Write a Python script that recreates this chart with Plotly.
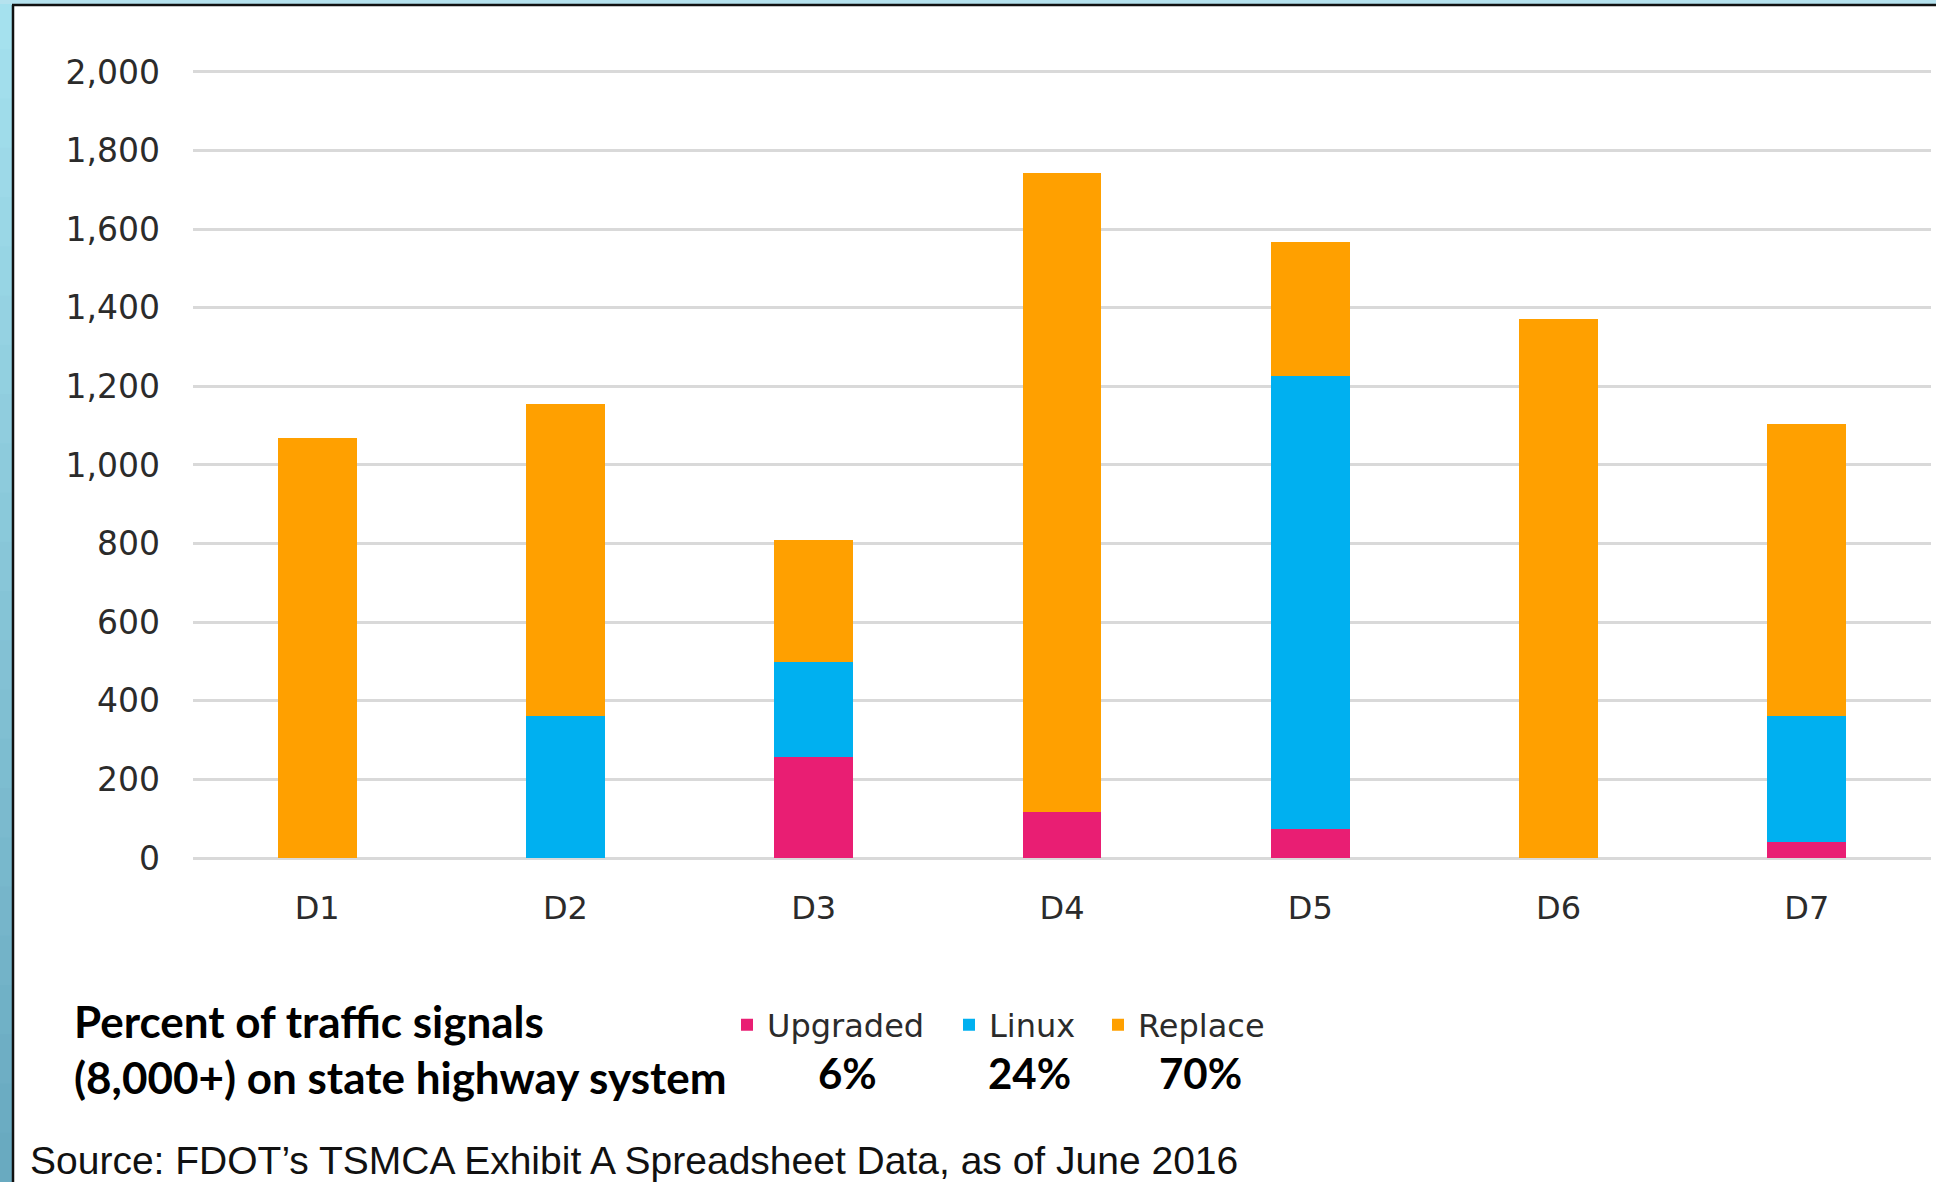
import plotly.graph_objects as go

# ---- data ----
districts = ["D1", "D2", "D3", "D4", "D5", "D6", "D7"]
upgraded = [0, 0, 257, 117, 74, 0, 41]
linux = [0, 362, 241, 0, 1152, 0, 320]
replace = [1069, 794, 311, 1625, 341, 1371, 744]

series_names = ["Upgraded", "Linux", "Replace"]
series_colors = ["#E91E73", "#00B0F0", "#FFA000"]
percent_labels = ["6%", "24%", "70%"]
y_ticks = [0, 200, 400, 600, 800, 1000, 1200, 1400, 1600, 1800, 2000]

caption_lines = ["Percent of traffic signals", "(8,000+) on state highway system"]
source_text = "Source: FDOT\u2019s TSMCA Exhibit A Spreadsheet Data, as of June 2016"

# ---- layout geometry (pixels) ----
W, H = 1936, 1182
L, R, T, B = 193, 1931, 70, 858
Y_TOP = 2005


def xp(px):
    return (px - L) / (R - L)


def yp(py):
    return (B - py) / (B - T)


legend_names = ["legend", "legend2", "legend3"]
legend_x = [727, 949, 1098]

fig = go.Figure()
for name, vals, col, lg in zip(series_names, [upgraded, linux, replace], series_colors, legend_names):
    fig.add_trace(go.Bar(x=districts, y=vals, name=name, marker_color=col,
                         marker_line_width=0, legend=lg))

shapes = []
# left gradient strip
n = 24
c0 = (165, 225, 238)
c1 = (105, 170, 192)
for i in range(n):
    f = i / (n - 1)
    c = tuple(int(c0[k] + (c1[k] - c0[k]) * f) for k in range(3))
    y0 = H * i / n
    y1 = H * (i + 1) / n + 1
    shapes.append(dict(type="rect", xref="paper", yref="paper",
                       x0=xp(0), x1=xp(12), y0=yp(y0), y1=yp(y1),
                       fillcolor="rgb(%d,%d,%d)" % c, line_width=0, layer="above"))
# top strip
shapes.append(dict(type="rect", xref="paper", yref="paper",
                   x0=xp(0), x1=xp(W), y0=yp(0), y1=yp(4),
                   fillcolor="#B5E2EE", line_width=0, layer="above"))
# black frame lines
shapes.append(dict(type="line", xref="paper", yref="paper",
                   x0=xp(13), x1=xp(13), y0=yp(5), y1=yp(H),
                   line=dict(color="#111111", width=2.5), layer="above"))
shapes.append(dict(type="line", xref="paper", yref="paper",
                   x0=xp(12), x1=xp(W), y0=yp(5), y1=yp(5),
                   line=dict(color="#111111", width=2.5), layer="above"))

annotations = []
for txt, yy in zip(caption_lines, [1021, 1077]):
    annotations.append(dict(text=txt, xref="paper", yref="paper", x=xp(72), y=yp(yy),
                            xanchor="left", yanchor="middle", showarrow=False,
                            font=dict(family="Lato", size=44, color="#000000", weight="bold")))
for txt, xx in zip(percent_labels, [847, 1029, 1200]):
    annotations.append(dict(text=txt, xref="paper", yref="paper", x=xp(xx), y=yp(1073),
                            xanchor="center", yanchor="middle", showarrow=False,
                            font=dict(family="Lato", size=42, color="#000000", weight="bold")))
annotations.append(dict(text=source_text, xref="paper", yref="paper", x=xp(28), y=yp(1160),
                        xanchor="left", yanchor="middle", showarrow=False,
                        font=dict(family="Liberation Sans", size=39, color="#111111")))

legend_style = dict(orientation="h", y=yp(1025), xanchor="left", yanchor="middle",
                    font=dict(family="DejaVu Sans", size=32, color="#2b2b2b"),
                    bgcolor="rgba(0,0,0,0)", borderwidth=0)

fig.update_layout(
    width=W, height=H,
    margin=dict(l=L, r=W - R, t=T, b=H - B, pad=0),
    paper_bgcolor="white", plot_bgcolor="white",
    barmode="stack", bargap=0.682,
    font=dict(family="DejaVu Sans", color="#2b2b2b"),
    showlegend=True,
    legend=dict(x=xp(legend_x[0]), **legend_style),
    legend2=dict(x=xp(legend_x[1]), **legend_style),
    legend3=dict(x=xp(legend_x[2]), **legend_style),
    shapes=shapes,
    annotations=annotations,
)
fig.update_xaxes(showgrid=False, showline=False, ticks="", ticklabelstandoff=28,
                 tickfont=dict(family="DejaVu Sans", size=32, color="#2b2b2b"))
fig.update_yaxes(range=[0, Y_TOP], tickvals=y_ticks, tickformat=",", showgrid=True,
                 gridcolor="#D9D9D9", gridwidth=2.5, zeroline=True, zerolinecolor="#D9D9D9",
                 zerolinewidth=2.5, showline=False, ticks="", ticklabelstandoff=32,
                 tickfont=dict(family="DejaVu Sans", size=33, color="#2b2b2b"))

fig.write_html("out.html")
